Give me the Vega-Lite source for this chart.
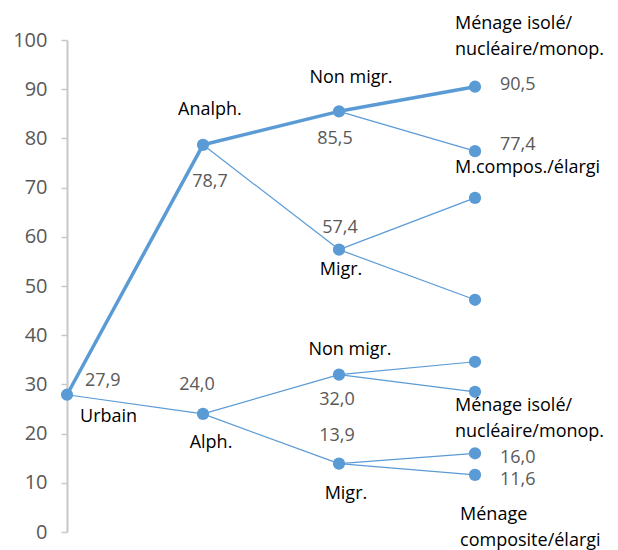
{
  "$schema": "https://vega.github.io/schema/vega-lite/v6.json",
  "autosize": "none",
  "width": 544,
  "height": 492,
  "padding": {"left": 67, "top": 40, "right": 7, "bottom": 18},
  "background": "white",
  "config": {"view": {"stroke": null}, "font": "Open Sans"},
  "datasets": {
    "edges": [
      {"from": 0, "v1": 27.9, "to": 1, "v2": 78.7, "path": "principal"},
      {"from": 1, "v1": 78.7, "to": 2, "v2": 85.5, "path": "principal"},
      {"from": 2, "v1": 85.5, "to": 3, "v2": 90.5, "path": "principal"},
      {"from": 2, "v1": 85.5, "to": 3, "v2": 77.4, "path": "autre"},
      {"from": 1, "v1": 78.7, "to": 2, "v2": 57.4, "path": "autre"},
      {"from": 2, "v1": 57.4, "to": 3, "v2": 67.9, "path": "autre"},
      {"from": 2, "v1": 57.4, "to": 3, "v2": 47.2, "path": "autre"},
      {"from": 0, "v1": 27.9, "to": 1, "v2": 24.0, "path": "autre"},
      {"from": 1, "v1": 24.0, "to": 2, "v2": 32.0, "path": "autre"},
      {"from": 2, "v1": 32.0, "to": 3, "v2": 34.6, "path": "autre"},
      {"from": 2, "v1": 32.0, "to": 3, "v2": 28.5, "path": "autre"},
      {"from": 1, "v1": 24.0, "to": 2, "v2": 13.9, "path": "autre"},
      {"from": 2, "v1": 13.9, "to": 3, "v2": 16.0, "path": "autre"},
      {"from": 2, "v1": 13.9, "to": 3, "v2": 11.6, "path": "autre"}
    ],
    "nodes": [
      {"level": 0, "value": 27.9},
      {"level": 1, "value": 78.7},
      {"level": 1, "value": 24.0},
      {"level": 2, "value": 85.5},
      {"level": 2, "value": 57.4},
      {"level": 2, "value": 32.0},
      {"level": 2, "value": 13.9},
      {"level": 3, "value": 90.5},
      {"level": 3, "value": 77.4},
      {"level": 3, "value": 67.9},
      {"level": 3, "value": 47.2},
      {"level": 3, "value": 34.6},
      {"level": 3, "value": 28.5},
      {"level": 3, "value": 16.0},
      {"level": 3, "value": 11.6}
    ],
    "labels": [
      {"lx": 0.096, "ly": 23.4, "text": "Urbain", "kind": "name", "anchor": "left"},
      {"lx": 1.051, "ly": 85.8, "text": "Analph.", "kind": "name", "anchor": "center"},
      {"lx": 2.088, "ly": 92.3, "text": "Non migr.", "kind": "name", "anchor": "center"},
      {"lx": 2.015, "ly": 53.3, "text": "Migr.", "kind": "name", "anchor": "center"},
      {"lx": 1.059, "ly": 18.1, "text": "Alph.", "kind": "name", "anchor": "center"},
      {"lx": 2.081, "ly": 37.0, "text": "Non migr.", "kind": "name", "anchor": "center"},
      {"lx": 2.051, "ly": 7.7, "text": "Migr.", "kind": "name", "anchor": "center"},
      {"lx": 2.853, "ly": 103.3, "text": "Ménage isolé/", "kind": "name", "anchor": "left"},
      {"lx": 2.853, "ly": 98.0, "text": "nucléaire/monop.", "kind": "name", "anchor": "left"},
      {"lx": 2.853, "ly": 74.0, "text": "M.compos./élargi", "kind": "name", "anchor": "left"},
      {"lx": 2.853, "ly": 25.7, "text": "Ménage isolé/", "kind": "name", "anchor": "left"},
      {"lx": 2.853, "ly": 20.4, "text": "nucléaire/monop.", "kind": "name", "anchor": "left"},
      {"lx": 2.89, "ly": 3.5, "text": "Ménage", "kind": "name", "anchor": "left"},
      {"lx": 2.89, "ly": -1.8, "text": "composite/élargi", "kind": "name", "anchor": "left"},
      {"lx": 0.132, "ly": 30.7, "text": "27,9", "kind": "value", "anchor": "left"},
      {"lx": 1.051, "ly": 71.1, "text": "78,7", "kind": "value", "anchor": "center"},
      {"lx": 1.971, "ly": 79.9, "text": "85,5", "kind": "value", "anchor": "center"},
      {"lx": 2.007, "ly": 61.8, "text": "57,4", "kind": "value", "anchor": "center"},
      {"lx": 0.956, "ly": 29.9, "text": "24,0", "kind": "value", "anchor": "center"},
      {"lx": 1.985, "ly": 26.8, "text": "32,0", "kind": "value", "anchor": "center"},
      {"lx": 1.985, "ly": 19.5, "text": "13,9", "kind": "value", "anchor": "center"},
      {"lx": 3.184, "ly": 90.9, "text": "90,5", "kind": "value", "anchor": "left"},
      {"lx": 3.184, "ly": 78.7, "text": "77,4", "kind": "value", "anchor": "left"},
      {"lx": 3.184, "ly": 15.0, "text": "16,0", "kind": "value", "anchor": "left"},
      {"lx": 3.184, "ly": 10.6, "text": "11,6", "kind": "value", "anchor": "left"}
    ]
  },
  "layer": [
    {
      "data": {"name": "nodes"},
      "mark": {"type": "point", "opacity": 0},
      "encoding": {
        "x": {"field": "level", "type": "quantitative", "scale": {"domain": [0, 4], "nice": false, "zero": false}, "axis": null},
        "y": {
          "field": "value", "type": "quantitative",
          "scale": {"domain": [0, 100], "nice": false},
          "axis": {
            "title": null, "values": [0, 10, 20, 30, 40, 50, 60, 70, 80, 90, 100],
            "grid": false, "domainColor": "#c8c8c8", "domainWidth": 2,
            "tickColor": "#c8c8c8", "tickWidth": 1.5, "tickSize": 6,
            "labelColor": "#595959", "labelFontSize": 20, "labelFont": "Open Sans",
            "labelPadding": 14
          }
        }
      }
    },
    {
      "data": {"name": "edges"},
      "mark": {"type": "rule", "color": "#5b9bd5", "clip": false},
      "encoding": {
        "x": {"field": "from", "type": "quantitative"},
        "y": {"field": "v1", "type": "quantitative"},
        "x2": {"field": "to"},
        "y2": {"field": "v2"},
        "strokeWidth": {"field": "path", "type": "nominal", "scale": {"domain": ["principal", "autre"], "range": [3.5, 1.2]}, "legend": null}
      }
    },
    {
      "data": {"name": "nodes"},
      "mark": {"type": "circle", "color": "#5b9bd5", "opacity": 1, "size": 150, "clip": false},
      "encoding": {
        "x": {"field": "level", "type": "quantitative"},
        "y": {"field": "value", "type": "quantitative"}
      }
    },
    {
      "data": {"name": "labels"},
      "transform": [{"filter": "datum.anchor === 'left'"}],
      "mark": {"type": "text", "align": "left", "baseline": "middle", "fontSize": 18, "font": "Open Sans", "clip": false},
      "encoding": {
        "x": {"field": "lx", "type": "quantitative"},
        "y": {"field": "ly", "type": "quantitative"},
        "text": {"field": "text"},
        "color": {"field": "kind", "type": "nominal", "scale": {"domain": ["name", "value"], "range": ["#000000", "#595959"]}, "legend": null}
      }
    },
    {
      "data": {"name": "labels"},
      "transform": [{"filter": "datum.anchor === 'center'"}],
      "mark": {"type": "text", "align": "center", "baseline": "middle", "fontSize": 18, "font": "Open Sans", "clip": false},
      "encoding": {
        "x": {"field": "lx", "type": "quantitative"},
        "y": {"field": "ly", "type": "quantitative"},
        "text": {"field": "text"},
        "color": {"field": "kind", "type": "nominal", "scale": {"domain": ["name", "value"], "range": ["#000000", "#595959"]}, "legend": null}
      }
    }
  ]
}
